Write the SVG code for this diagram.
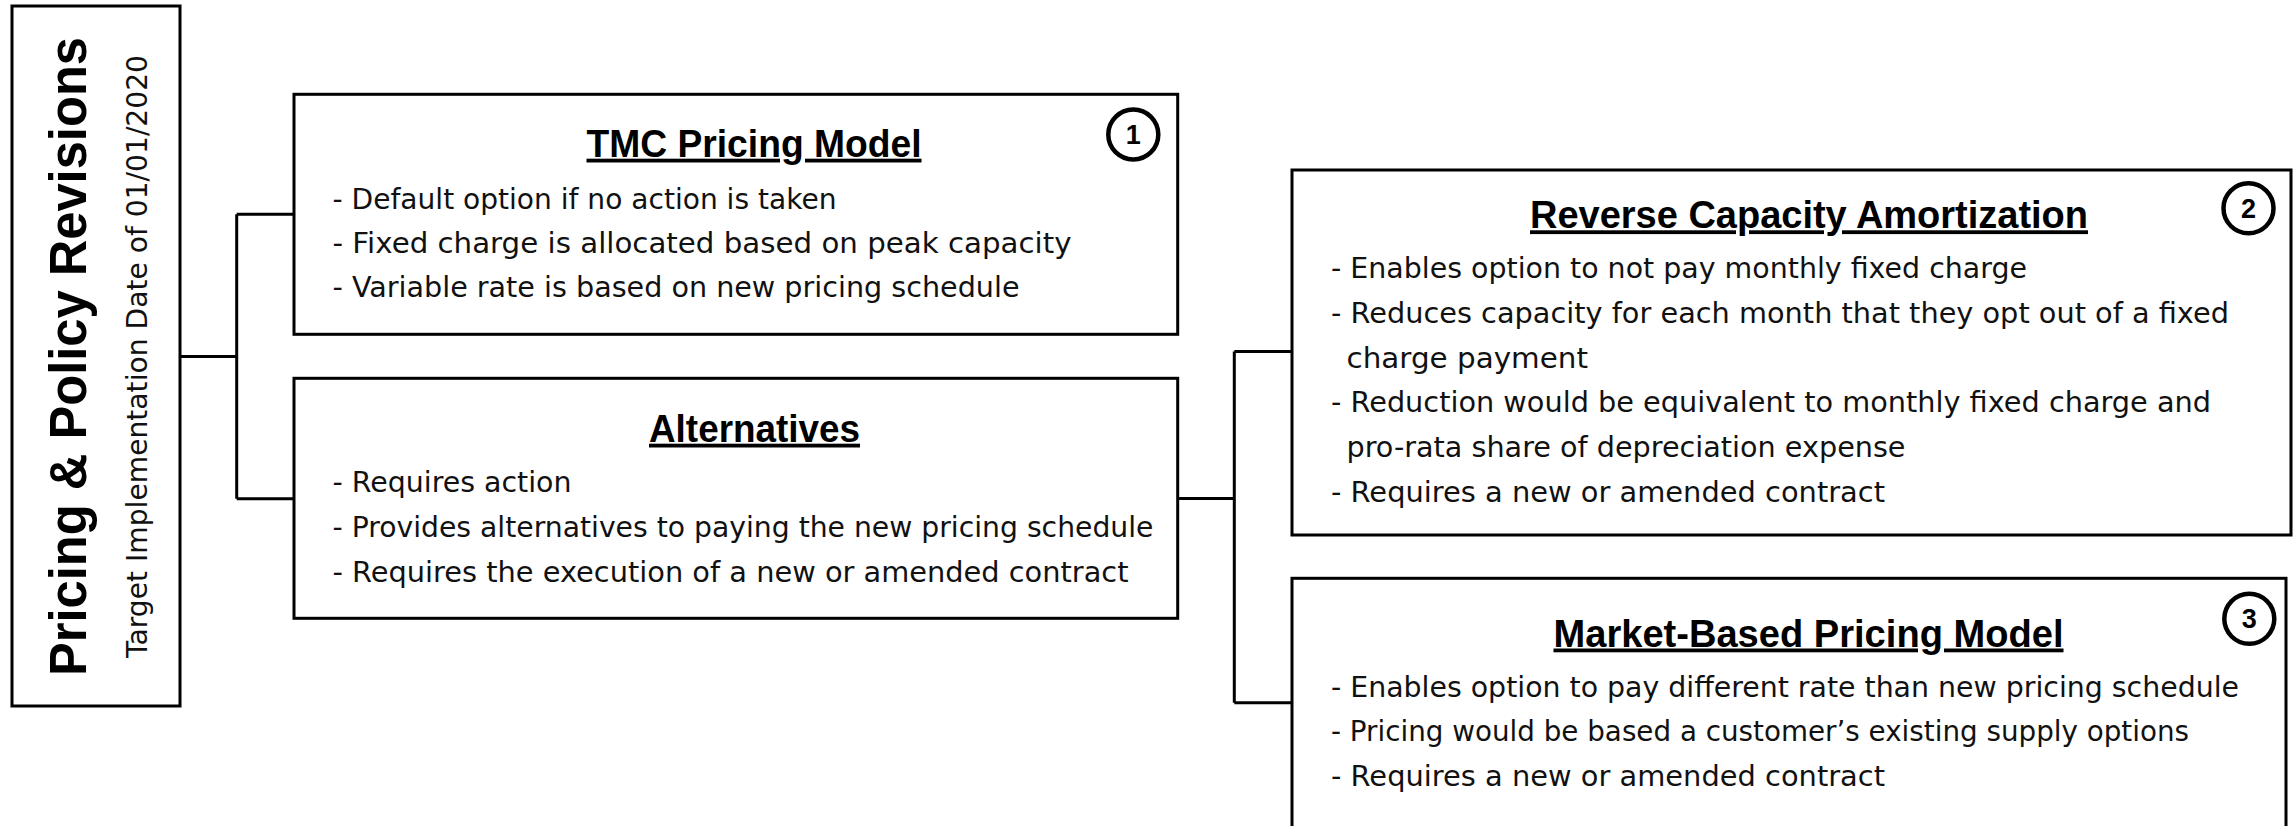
<svg xmlns="http://www.w3.org/2000/svg" width="2293" height="826" viewBox="0 0 2293 826">
  <style>
    .box { fill: #ffffff; stroke: #000000; stroke-width: 3; }
    .wire { fill: none; stroke: #000000; stroke-width: 3; }
    .badge { fill: none; stroke: #000000; stroke-width: 4.5; }
    .badge-num { font-family: "Liberation Sans", Arial, sans-serif; font-weight: bold; font-size: 27px; fill: #000000; text-anchor: middle; }
    .head { font-family: "Liberation Sans", Arial, sans-serif; font-weight: bold; font-size: 38px; fill: #000000; text-anchor: middle; text-decoration: underline; text-decoration-skip-ink: none; }
    .item { font-family: "DejaVu Sans", "Liberation Sans", sans-serif; font-size: 28px; fill: #111111; }
    .main-title { font-family: "Liberation Sans", Arial, sans-serif; font-weight: bold; font-size: 51px; fill: #000000; text-anchor: middle; }
    .sub-title { font-family: "DejaVu Sans", "Liberation Sans", sans-serif; font-size: 28px; fill: #111111; text-anchor: middle; }
  </style>

  <rect width="2293" height="826" fill="#ffffff"/>

  <!-- tree connectors -->
  <g id="connectors">
    <path class="wire" d="M180 356.5 H236.7 M236.7 214.3 V498.7 M236.7 214.3 H294 M236.7 498.7 H294"/>
    <path class="wire" d="M1177.7 498.5 H1234.3 M1234.3 351.5 V702.7 M1234.3 351.5 H1292 M1234.3 702.7 H1292"/>
  </g>

  <!-- root: vertical title block -->
  <g id="root">
    <rect class="box" x="12" y="6" width="168" height="700"/>
    <text class="main-title" transform="translate(86 356.5) rotate(-90)" textLength="639" lengthAdjust="spacingAndGlyphs">Pricing &amp; Policy Revisions</text>
    <text class="sub-title" transform="translate(146.7 356.5) rotate(-90)" textLength="603" lengthAdjust="spacingAndGlyphs">Target Implementation Date of 01/01/2020</text>
  </g>

  <!-- option 1 -->
  <g id="tmc-pricing-model">
    <rect class="box" x="294" y="94.3" width="883.7" height="240"/>
    <circle class="badge" cx="1133.3" cy="134.5" r="25"/>
    <text class="badge-num" x="1133.3" y="144">1</text>
    <text class="head" x="754" y="156.7" textLength="335" lengthAdjust="spacingAndGlyphs">TMC Pricing Model</text>
    <text class="item" x="332.5" y="208.5" textLength="504" lengthAdjust="spacingAndGlyphs">- Default option if no action is taken</text>
    <text class="item" x="332.5" y="253" textLength="739" lengthAdjust="spacingAndGlyphs">- Fixed charge is allocated based on peak capacity</text>
    <text class="item" x="332.5" y="297" textLength="687" lengthAdjust="spacingAndGlyphs">- Variable rate is based on new pricing schedule</text>
  </g>

  <!-- alternatives -->
  <g id="alternatives">
    <rect class="box" x="294" y="378.3" width="883.7" height="240"/>
    <text class="head" x="754.5" y="441.7" textLength="211" lengthAdjust="spacingAndGlyphs">Alternatives</text>
    <text class="item" x="332.5" y="492" textLength="239" lengthAdjust="spacingAndGlyphs">- Requires action</text>
    <text class="item" x="332.5" y="536.7" textLength="821" lengthAdjust="spacingAndGlyphs">- Provides alternatives to paying the new pricing schedule</text>
    <text class="item" x="332.5" y="581.5" textLength="796" lengthAdjust="spacingAndGlyphs">- Requires the execution of a new or amended contract</text>
  </g>

  <!-- option 2 -->
  <g id="reverse-capacity-amortization">
    <rect class="box" x="1292" y="170" width="999" height="365"/>
    <circle class="badge" cx="2248.5" cy="208.3" r="25"/>
    <text class="badge-num" x="2248.5" y="217.8">2</text>
    <text class="head" x="1809" y="228.3" textLength="558" lengthAdjust="spacingAndGlyphs">Reverse Capacity Amortization</text>
    <text class="item" x="1331" y="277.7" textLength="696" lengthAdjust="spacingAndGlyphs">- Enables option to not pay monthly fixed charge</text>
    <text class="item" x="1331" y="323.3" textLength="898" lengthAdjust="spacingAndGlyphs">- Reduces capacity for each month that they opt out of a fixed</text>
    <text class="item" x="1346.5" y="367.7" textLength="241.5" lengthAdjust="spacingAndGlyphs">charge payment</text>
    <text class="item" x="1331" y="412.3" textLength="880" lengthAdjust="spacingAndGlyphs">- Reduction would be equivalent to monthly fixed charge and</text>
    <text class="item" x="1346.5" y="456.7" textLength="559" lengthAdjust="spacingAndGlyphs">pro-rata share of depreciation expense</text>
    <text class="item" x="1331" y="501.7" textLength="554" lengthAdjust="spacingAndGlyphs">- Requires a new or amended contract</text>
  </g>

  <!-- option 3 -->
  <g id="market-based-pricing-model">
    <rect class="box" x="1292" y="578.3" width="994" height="300"/>
    <circle class="badge" cx="2249.3" cy="618.8" r="25"/>
    <text class="badge-num" x="2249.3" y="628.3">3</text>
    <text class="head" x="1808.5" y="646.5" textLength="510" lengthAdjust="spacingAndGlyphs">Market-Based Pricing Model</text>
    <text class="item" x="1331" y="696.5" textLength="908" lengthAdjust="spacingAndGlyphs">- Enables option to pay different rate than new pricing schedule</text>
    <text class="item" x="1331" y="741.3" textLength="858" lengthAdjust="spacingAndGlyphs">- Pricing would be based a customer’s existing supply options</text>
    <text class="item" x="1331" y="785.5" textLength="554" lengthAdjust="spacingAndGlyphs">- Requires a new or amended contract</text>
  </g>
</svg>
